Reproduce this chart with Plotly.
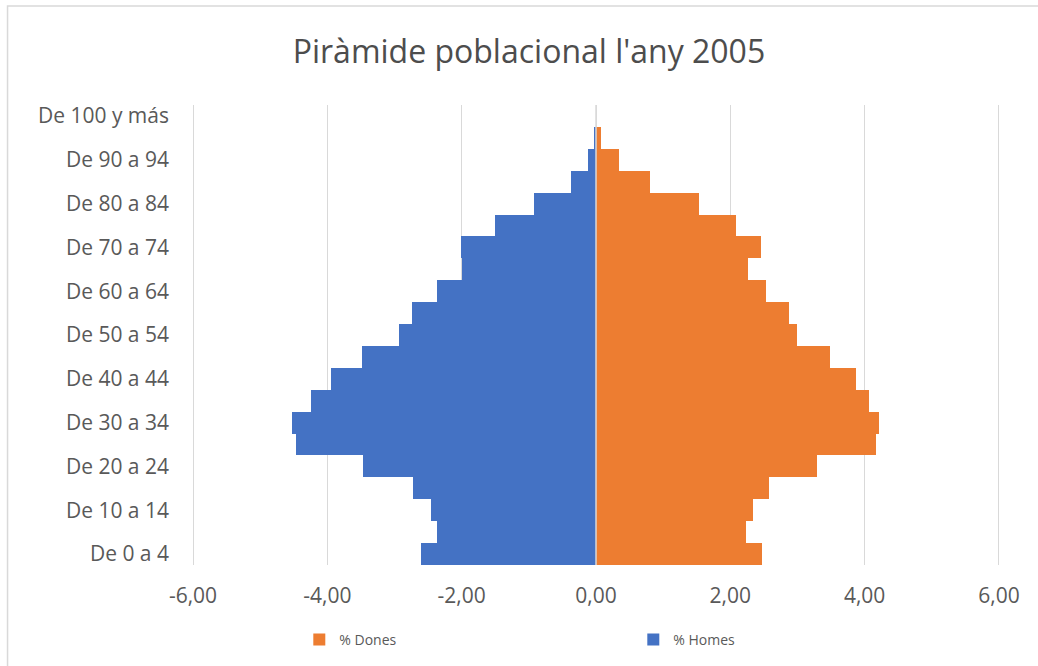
import plotly.graph_objects as go

# age groups, bottom to top
age_groups = ["De 0 a 4", "De 5 a 9", "De 10 a 14", "De 15 a 19", "De 20 a 24",
              "De 25 a 29", "De 30 a 34", "De 35 a 39", "De 40 a 44", "De 45 a 49",
              "De 50 a 54", "De 55 a 59", "De 60 a 64", "De 65 a 69", "De 70 a 74",
              "De 75 a 79", "De 80 a 84", "De 85 a 89", "De 90 a 94", "De 95 a 99",
              "De 100 y más"]
pct_dones = [2.47, 2.24, 2.33, 2.58, 3.29, 4.17, 4.22, 4.06, 3.87, 3.49,
             2.99, 2.87, 2.53, 2.27, 2.46, 2.08, 1.53, 0.81, 0.34, 0.07, 0.0]
pct_homes = [-2.60, -2.36, -2.46, -2.73, -3.47, -4.46, -4.52, -4.25, -3.94, -3.48,
             -2.94, -2.74, -2.36, -1.99, -2.01, -1.51, -0.93, -0.37, -0.12, -0.03, 0.0]
shown_labels = age_groups[::2]
x_ticks = [-6, -4, -2, 0, 2, 4, 6]
x_tick_text = ["-6,00", "-4,00", "-2,00", "0,00", "2,00", "4,00", "6,00"]

font_family = "Open Sans, sans-serif"
grey_text = '#595959'

fig = go.Figure()
fig.add_trace(go.Bar(y=age_groups, x=pct_dones, orientation='h', name="% Dones",
                     marker={'color': '#ED7D31', 'line': {'width': 0}}))
fig.add_trace(go.Bar(y=age_groups, x=pct_homes, orientation='h', name="% Homes",
                     marker={'color': '#4472C4', 'line': {'width': 0}}))

fig.update_layout(
    width=1038, height=666,
    barmode='overlay', bargap=0,
    paper_bgcolor='white', plot_bgcolor='white',
    margin=dict(l=192, r=38, t=105, b=101, autoexpand=False),
    font=dict(family=font_family, color=grey_text),
    title=dict(text="Piràmide poblacional l'any 2005", xref='container', x=0.5096,
               xanchor='center', yref='container', y=1 - 52 / 666, yanchor='middle',
               font=dict(size=32, color='#4d4d4d')),
    legend=dict(orientation='h', x=0.1328, xanchor='left', y=-0.163, yanchor='middle',
                entrywidth=289, entrywidthmode='pixels', traceorder='normal',
                font=dict(size=14, color=grey_text)),
    showlegend=True,
)
fig.update_xaxes(range=[-6.015, 6.015], tickvals=x_ticks, ticktext=x_tick_text,
                 showgrid=True, gridcolor='#d9d9d9', gridwidth=1, zeroline=False,
                 tickfont=dict(size=21, color=grey_text), ticks='', showline=False,
                 ticklabelstandoff=16, automargin=False)
fig.update_yaxes(categoryorder='array', categoryarray=age_groups,
                 tickvals=shown_labels, ticktext=shown_labels,
                 tickfont=dict(size=21, color=grey_text), ticks='', showgrid=False,
                 showline=False, ticklabelstandoff=22, automargin=False)

# category axis line at zero, drawn above bars
fig.add_shape(type='line', xref='x', yref='paper', x0=0, x1=0, y0=0, y1=1,
              line=dict(color='#d9d9d9', width=1.5), layer='above')
# chart border
fig.add_shape(type='rect', xref='paper', yref='paper', x0=-0.2283, x1=1.2, y0=-0.3,
              y1=1.2152, line=dict(color='#d9d9d9', width=1.5), layer='below')

fig.write_html("out.html", config={'displayModeBar': False},
               post_script="document.body.style.margin='0';")
